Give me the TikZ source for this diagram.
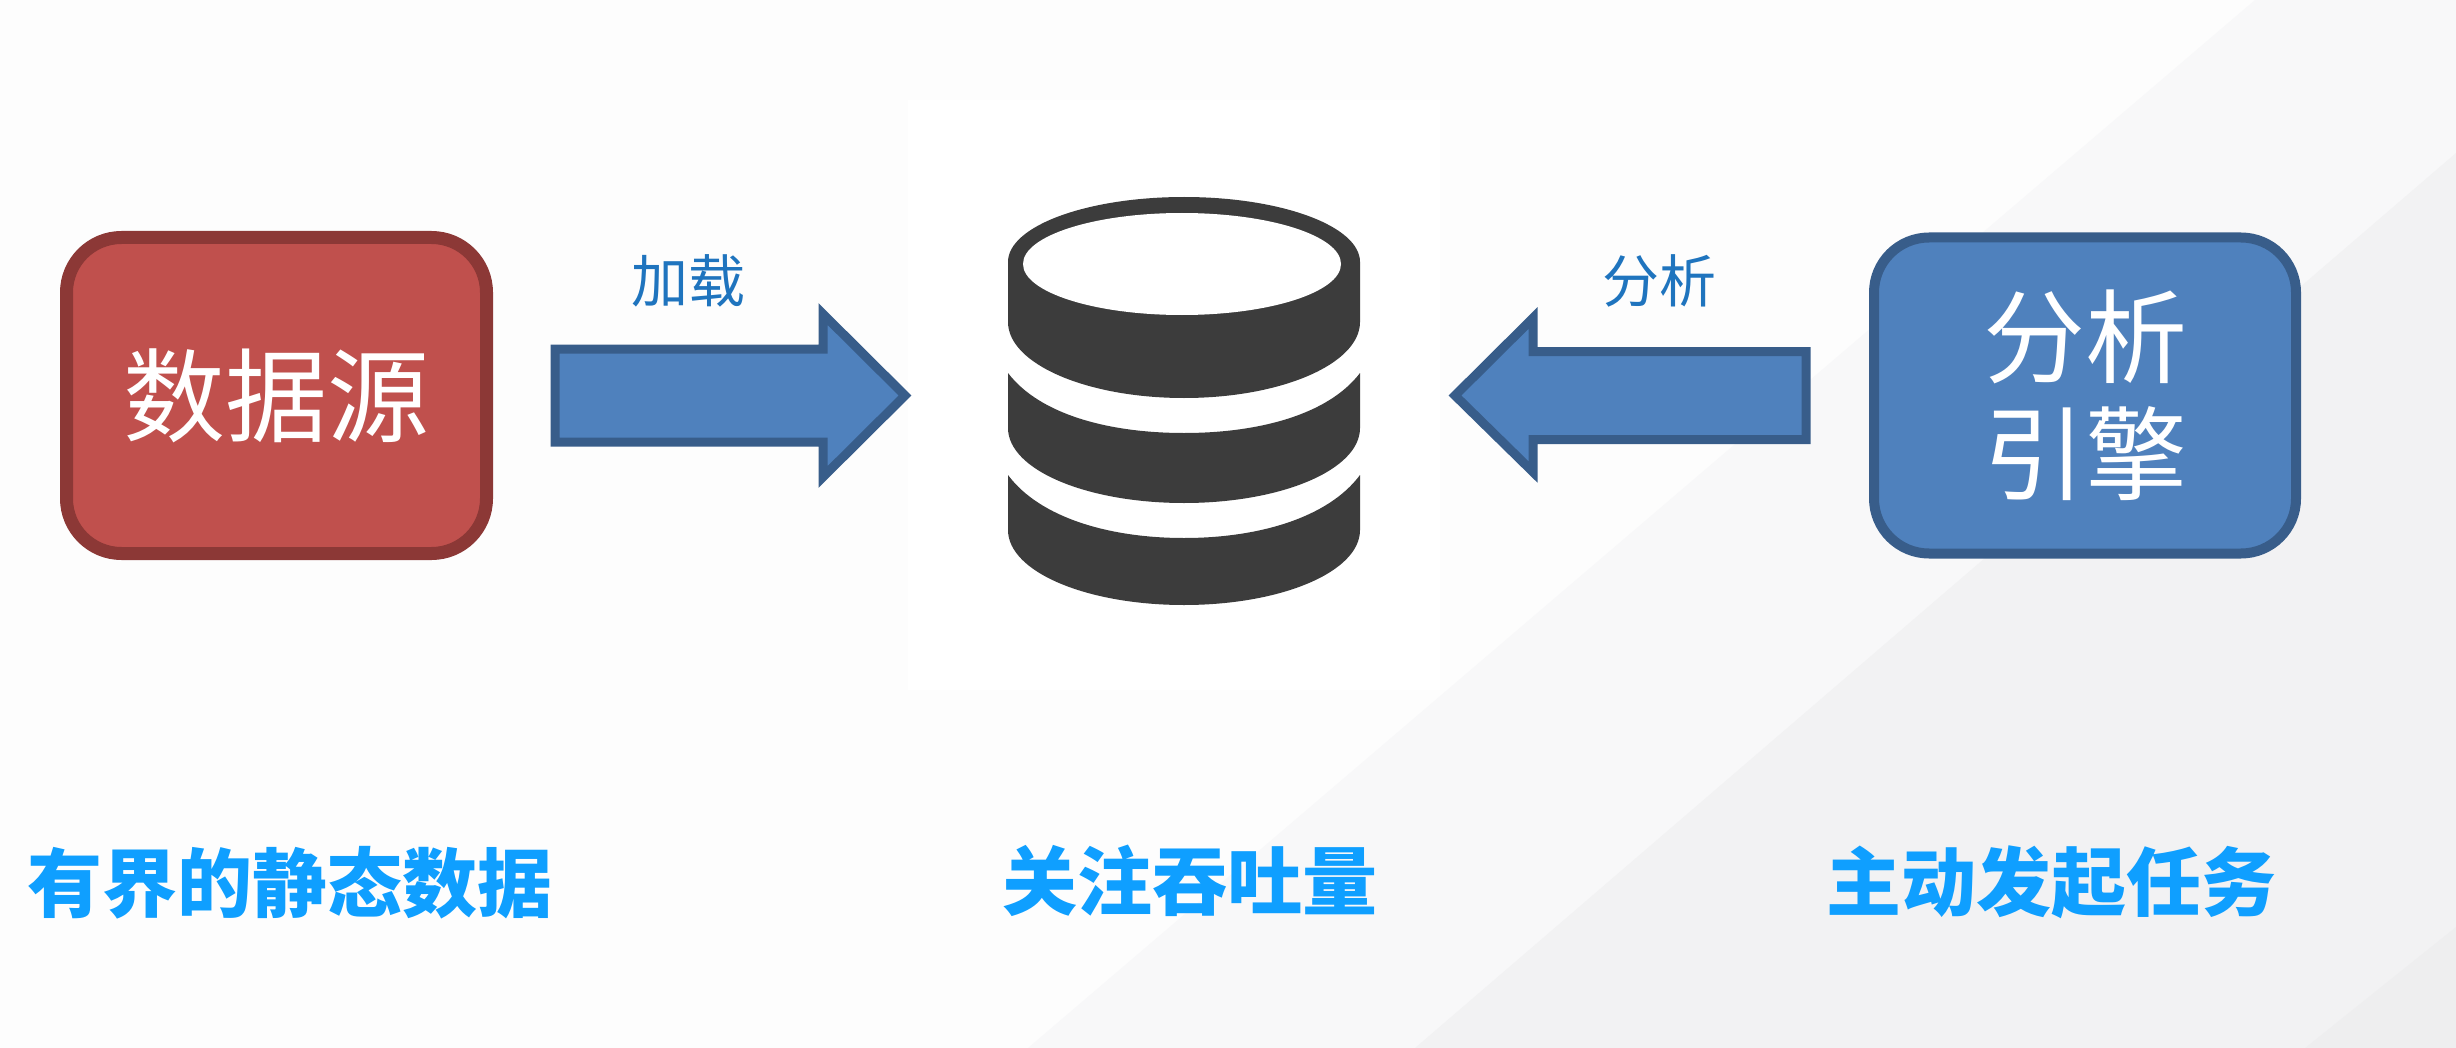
\documentclass[tikz,border=0pt]{standalone}
\usepackage{fontspec}
\setmainfont{Noto Sans CJK SC}
\definecolor{redfill}{HTML}{C0504D}
\definecolor{redline}{HTML}{8C3836}
\definecolor{bluefill}{HTML}{4F81BD}
\definecolor{blueline}{HTML}{385D8A}
\definecolor{labelblue}{HTML}{1F74BE}
\definecolor{headblue}{HTML}{0F9FFF}
\definecolor{dbdark}{HTML}{3C3C3C}
\definecolor{bandA}{HTML}{FDFDFD}
\definecolor{bandB}{HTML}{F8F8F9}
\definecolor{bandC}{HTML}{F2F2F3}
\definecolor{bandD}{HTML}{EEEEEF}
\tikzset{
  card/.style={rounded corners=27.5pt,minimum height=158pt,inner sep=0pt,align=center,text=white,
    font=\fontsize{51}{58.5}\selectfont},
  redcard/.style={card,fill=redfill,draw=redline,line width=6.5pt,minimum width=210pt},
  bluecard/.style={card,fill=bluefill,draw=blueline,line width=5pt,minimum width=211pt},
  blockarrow/.style={fill=bluefill,draw=blueline,line width=4.5pt,miter limit=10,line join=miter},
  flowlabel/.style={text=labelblue,inner sep=0pt,font=\fontsize{28.5}{34}\selectfont},
  caption/.style={text=headblue,inner sep=0pt,font=\fontsize{37.5}{44}\selectfont\bfseries},
  dblayer/.style={fill=dbdark,draw=none}
}
\begin{document}
\begin{tikzpicture}[x=0.5pt,y=-0.5pt]
\useasboundingbox (0,0) rectangle (2456,1048);
% background bands
\fill[bandA] (0,0) rectangle (2456,1048);
\fill[bandB] (2255,0) -- (2456,0) -- (2456,1048) -- (1028,1048) -- cycle;
\fill[bandC] (2456,153) -- (2456,1048) -- (1415,1048) -- cycle;
\fill[bandD] (2456,927) -- (2456,1048) -- (2305,1048) -- cycle;
\fill[white] (908,100) rectangle (1440,690);
% boxes
\node[redcard] (source) at (276.5,395.5) {数据源};
\node[bluecard] (engine) at (2085,395.5) {分析\\引擎};
% arrows
\coordinate (loadstart) at (555,395.5);
\coordinate (loadtip) at (905,395.5);
\coordinate (readstart) at (1806,395.5);
\coordinate (readtip) at (1455,395.5);
\draw[blockarrow] (loadstart) ++(0,-46.5) -- (823,349) -- (823,314) -- (loadtip) -- (823,477) -- (823,442) -- (555,442) -- cycle;
\draw[blockarrow] (readstart) ++(0,-44) -- (1533,351.5) -- (1533,318) -- (readtip) -- (1533,472) -- (1533,439.5) -- (1806,439.5) -- cycle;
\node[flowlabel] (loadlabel) at (688,281) {加载};
\node[flowlabel] (readlabel) at (1659,281) {分析};
% database
\fill[dblayer] (1008,262) .. controls (1008,226) and (1087,197) .. (1184,197) .. controls (1281,197) and (1360,226) .. (1360,262)
  -- (1360,322) .. controls (1360,364) and (1281,398) .. (1184,398) .. controls (1087,398) and (1008,364) .. (1008,322) -- cycle;
\fill[white] (1182,264) ellipse [x radius=159,y radius=51];
\fill[dblayer] (1008,373) .. controls (1040,415) and (1110,433) .. (1184,433) .. controls (1258,433) and (1328,415) .. (1360,373)
  -- (1360,428) .. controls (1360,470) and (1281,503) .. (1184,503) .. controls (1087,503) and (1008,470) .. (1008,428) -- cycle;
\fill[dblayer] (1008,475) .. controls (1040,518) and (1110,538) .. (1184,538) .. controls (1258,538) and (1328,518) .. (1360,475)
  -- (1360,530) .. controls (1360,572) and (1281,605) .. (1184,605) .. controls (1087,605) and (1008,572) .. (1008,530) -- cycle;
% captions
\node[caption] (cap1) at (290,883) {有界的静态数据};
\node[caption] (cap2) at (1190,881) {关注吞吐量};
\node[caption] (cap3) at (2051,882) {主动发起任务};
\end{tikzpicture}
\end{document}
